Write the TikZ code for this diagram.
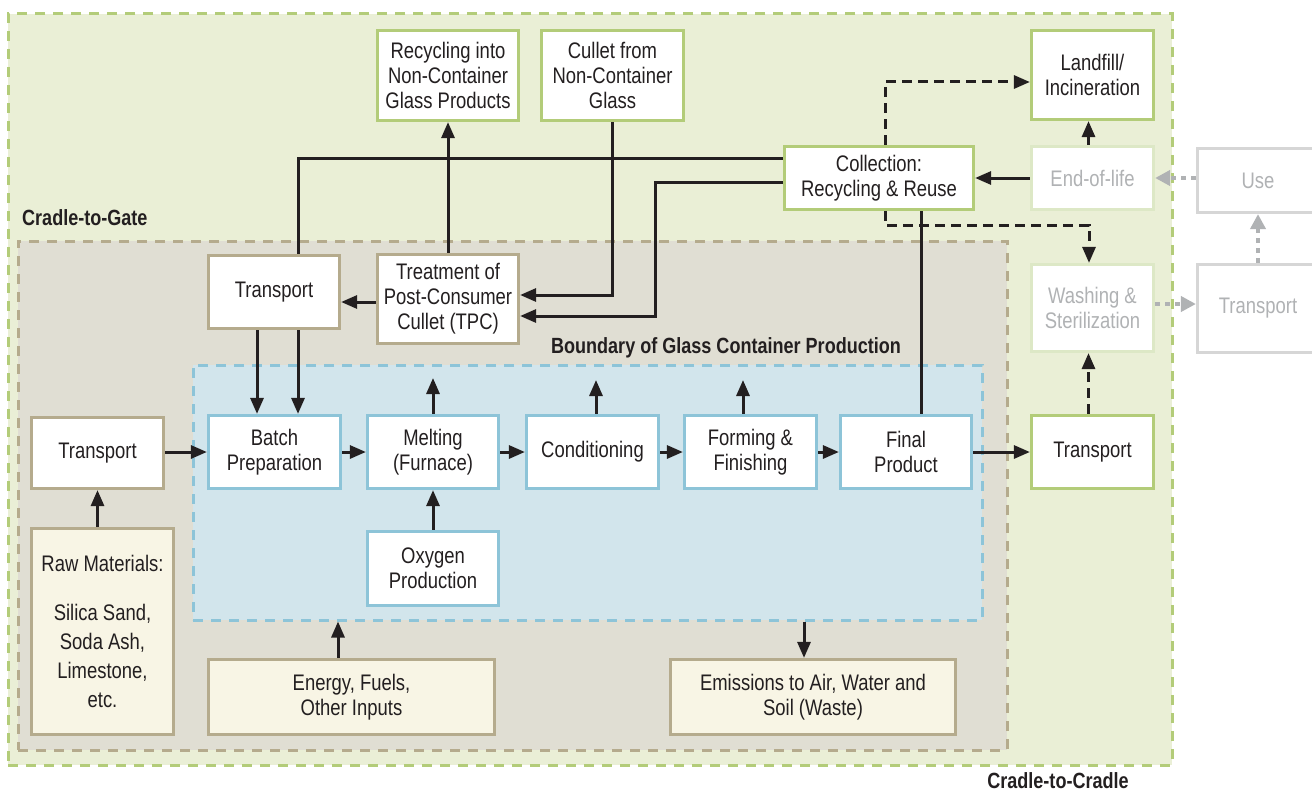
\documentclass[tikz,border=0pt]{standalone}
\usepackage{fontspec}
\setmainfont[FakeStretch=0.82]{Liberation Sans}
\usetikzlibrary{arrows.meta}
\definecolor{gfill}{HTML}{EAEFD6}
\definecolor{gline}{HTML}{B3CC79}
\definecolor{tfill}{HTML}{E0DED3}
\definecolor{tline}{HTML}{B5AB8D}
\definecolor{bfill}{HTML}{D2E5EC}
\definecolor{bline}{HTML}{8DC4D8}
\definecolor{cream}{HTML}{F8F5E5}
\definecolor{ink}{HTML}{231F20}
\definecolor{paleg}{HTML}{DDE8C6}
\definecolor{paleline}{HTML}{D6D6D6}
\definecolor{paletext}{HTML}{B0B2B4}
\tikzset{
  region/.style={draw, line width=3pt, dash pattern=on 10pt off 8pt, inner sep=0pt},
  base/.style={draw, line width=3.2pt, align=center, inner sep=2pt, fill=white, text=ink,
    font=\fontsize{22.5}{25}\selectfont},
  gbox/.style={base, draw=gline},
  tbox/.style={base, draw=tline},
  bbox/.style={base, draw=bline},
  cbox/.style={base, draw=tline, fill=cream},
  pbox/.style={base, draw=paleg, text=paletext},
  qbox/.style={base, draw=paleline, text=paletext},
  lbl/.style={text=ink, font=\fontsize{22}{25}\selectfont\bfseries, inner sep=0pt},
  wire/.style={draw=ink, line width=3pt},
  conn/.style={wire, -{Triangle[length=16pt,width=13pt]}},
  dconn/.style={conn, dash pattern=on 10pt off 6pt},
  gconn/.style={draw=paletext, line width=4pt, dash pattern=on 5pt off 5pt, -{Triangle[length=15pt,width=15pt]}},
}
\begin{document}
\begin{tikzpicture}[x=1pt,y=-1pt]
\useasboundingbox (0,0) rectangle (1312,792);
% regions
\node[region, draw=gline, fill=gfill, minimum width=1164pt, minimum height=751pt] (c2c) at (590,389.5) {};
\node[region, draw=tline, fill=tfill, minimum width=989pt, minimum height=509pt] (c2g) at (512.5,495.5) {};
\node[region, draw=bline, fill=bfill, minimum width=789pt, minimum height=255pt] (prod) at (587.5,492.5) {};
% labels
\node[lbl, anchor=west] (lcg) at (22,218) {Cradle-to-Gate};
\node[lbl] (lbd) at (726,348) {Boundary of Glass Container Production};
\node[lbl] (lcc) at (1058,781) {Cradle-to-Cradle};
% nodes
\node[gbox, minimum width=141pt, minimum height=90pt] (rec) at (448,75.5) {Recycling into\\Non-Container\\Glass Products};
\node[gbox, minimum width=142pt, minimum height=90pt] (cul) at (612.5,75.5) {Cullet from\\Non-Container\\Glass};
\node[gbox, minimum width=122pt, minimum height=89pt] (land) at (1092.5,75) {Landfill/\\Incineration};
\node[gbox, minimum width=189pt, minimum height=63pt] (coll) at (879,178) {Collection:\\Recycling \& Reuse};
\node[pbox, minimum width=122pt, minimum height=63pt] (eol) at (1092.5,178) {End-of-life};
\node[qbox, minimum width=121pt, minimum height=64pt] (use) at (1258,180.5) {Use};
\node[pbox, minimum width=122pt, minimum height=87pt] (wash) at (1092.5,308) {Washing \&\\Sterilization};
\node[qbox, minimum width=121pt, minimum height=88pt] (trg) at (1258,308.5) {Transport};
\node[gbox, minimum width=122pt, minimum height=73pt] (trout) at (1092.5,452) {Transport};
\node[tbox, minimum width=131pt, minimum height=73pt] (trt) at (274,292) {Transport};
\node[tbox, minimum width=141pt, minimum height=89pt] (tpc) at (448,299) {Treatment of\\Post-Consumer\\Cullet (TPC)};
\node[tbox, minimum width=132pt, minimum height=71pt] (trin) at (97.5,453) {Transport};
\node[bbox, minimum width=132pt, minimum height=73pt] (batch) at (274.5,452) {Batch\\Preparation};
\node[bbox, minimum width=131pt, minimum height=73pt] (melt) at (433,452) {Melting\\(Furnace)};
\node[bbox, minimum width=132pt, minimum height=73pt] (cond) at (592.5,452) {Conditioning};
\node[bbox, minimum width=132pt, minimum height=73pt] (form) at (750.5,452) {Forming \&\\Finishing};
\node[bbox, minimum width=131pt, minimum height=73pt] (final) at (906,452) {Final\\Product};
\node[bbox, minimum width=131pt, minimum height=74pt] (oxy) at (433,568.5) {Oxygen\\Production};
\node[cbox, minimum width=142pt, minimum height=206pt, font=\fontsize{22.5}{29}\selectfont] (raw) at (102.5,631.5) {Raw Materials:\\[20pt]Silica Sand,\\Soda Ash,\\Limestone,\\etc.};
\node[cbox, minimum width=286pt, minimum height=75pt] (energy) at (351.5,697) {Energy, Fuels,\\Other Inputs};
\node[cbox, minimum width=285pt, minimum height=75pt] (emis) at (813,697) {Emissions to Air, Water and\\Soil (Waste)};
% routing coordinates
\coordinate (j1) at (655,182);
\coordinate (j3) at (1089,225);
\coordinate (m1) at (433,378);
\coordinate (c1) at (596,380);
\coordinate (f1) at (743,380);
\coordinate (e1) at (338,0);
\coordinate (x1) at (804,0);
% connectors
\draw[conn] (tpc.north -| rec.south) -- (rec.south);
\draw[wire] ([yshift=20pt]coll.west) -| ([xshift=24pt]trt.north);
\draw[conn] ([xshift=-17pt]trt.south) -- ([xshift=-17pt]trt.south |- batch.north);
\draw[conn] ([xshift=24pt]trt.south) -- ([xshift=24pt]trt.south |- batch.north);
\draw[conn] ([yshift=-3pt]tpc.west) -- ([yshift=-3pt]tpc.west -| trt.east);
\draw[conn] (cul.south) |- ([yshift=4pt]tpc.east);
\draw[conn] (coll.west |- j1) -- (j1) |- ([yshift=-17pt]tpc.east);
\draw[wire] ([xshift=15pt]final.north) -- ([xshift=15pt]final.north |- coll.south);
\draw[dconn] ([xshift=6pt]coll.north) |- ([yshift=-7pt]land.west);
\draw[dconn] ([xshift=6pt]coll.south) |- (j3) -- (j3 |- wash.north);
\draw[conn] (eol.west) -- (coll.east);
\draw[dconn] ([xshift=-4pt]eol.north) -- ([xshift=-4pt]land.south);
\draw[gconn] (use.west |- eol.east) -- (eol.east);
\draw[gconn] (trg.north -| use.south) -- (use.south);
\draw[gconn] ([yshift=4pt]wash.east) -- ([yshift=4pt]wash.east -| trg.west);
\draw[dconn] ([xshift=-4pt]trout.north) -- ([xshift=-4pt]wash.south);
\draw[conn] (trin.east |- batch.west) -- (batch.west);
\draw[conn] (batch) -- (melt);
\draw[conn] (melt) -- (cond);
\draw[conn] (cond) -- (form);
\draw[conn] (form) -- (final);
\draw[conn] (final) -- (trout);
\draw[conn] (melt.north) -- (m1);
\draw[conn] (c1 |- cond.north) -- (c1);
\draw[conn] (f1 |- form.north) -- (f1);
\draw[conn] (oxy.north) -- (melt.south);
\draw[conn] (energy.north -| e1) -- (prod.south -| e1);
\draw[conn] (prod.south -| x1) -- (emis.north -| x1);
\draw[conn] (raw.north -| trin.south) -- (trin.south);
\end{tikzpicture}
\end{document}
